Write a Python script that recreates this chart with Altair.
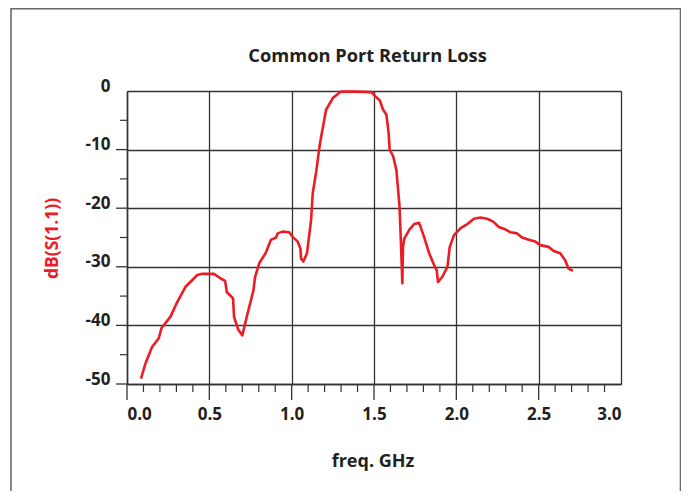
import altair as alt
import pandas as pd

# ---- data ----
freq_ghz = [0.085, 0.112, 0.152, 0.193, 0.209, 0.264, 0.300, 0.356, 0.427, 0.457,
            0.528, 0.569, 0.596, 0.606, 0.644, 0.650, 0.675, 0.700, 0.732, 0.768,
            0.778, 0.803, 0.843, 0.874, 0.905, 0.915, 0.945, 0.986, 1.006, 1.037,
            1.053, 1.057, 1.071, 1.093, 1.118, 1.128, 1.148, 1.169, 1.179, 1.209,
            1.250, 1.300, 1.380, 1.484, 1.508, 1.535, 1.555, 1.575, 1.589, 1.595,
            1.616, 1.636, 1.655, 1.663, 1.672, 1.676, 1.684, 1.714, 1.744, 1.774,
            1.804, 1.835, 1.865, 1.881, 1.889, 1.915, 1.946, 1.960, 1.986, 2.026,
            2.067, 2.107, 2.147, 2.187, 2.224, 2.258, 2.288, 2.329, 2.369, 2.399,
            2.440, 2.480, 2.510, 2.560, 2.591, 2.631, 2.661, 2.681, 2.708]
s11_db = [-49.1, -46.5, -43.7, -42.2, -40.5, -38.5, -36.3, -33.4, -31.4, -31.2,
          -31.2, -32.0, -32.4, -34.3, -35.4, -38.5, -40.7, -41.7, -38.0, -34.0,
          -31.7, -29.4, -27.6, -25.4, -25.0, -24.3, -24.0, -24.1, -24.9, -25.7,
          -26.9, -28.6, -29.1, -27.7, -22.0, -17.4, -14.0, -9.5, -7.8, -3.2,
          -1.2, -0.1, -0.1, -0.2, -0.9, -1.6, -3.2, -4.0, -7.2, -10.0,
          -11.1, -13.5, -19.7, -25.4, -32.8, -26.6, -25.2, -23.7, -22.7, -22.5,
          -24.9, -27.7, -29.7, -30.6, -32.6, -31.7, -30.0, -26.6, -24.6, -23.4,
          -22.7, -21.8, -21.6, -21.8, -22.3, -23.2, -23.5, -24.1, -24.3, -25.0,
          -25.4, -25.7, -26.3, -26.6, -27.3, -27.7, -28.9, -30.3, -30.7]

x_major = [0.0, 0.5, 1.0, 1.5, 2.0, 2.5, 3.0]
x_major_ticks = [0.0, 0.5, 1.0, 1.5, 2.0, 2.5]
x_minor_ticks = [0.1, 0.2, 0.3, 0.4, 0.6, 0.7, 0.8, 0.9, 1.1, 1.2, 1.3, 1.4,
                 1.6, 1.7, 1.8, 1.9, 2.1, 2.2, 2.3, 2.4, 2.6, 2.7, 2.8, 2.9]
y_major = [0, -10, -20, -30, -40, -50]
y_major_ticks = [-10, -20, -30, -40, -50]
y_minor_ticks = [-5, -15, -25, -35, -45]

title_text = "Common Port Return Loss"
x_title = "freq. GHz"
y_title = "dB(S(1.1))"

W, H = 494, 293
FONT = "Open Sans"
INK = "#231f20"
GRID = "#333333"
RED = "#ed1c24"

xs = alt.Scale(domain=[0, 3], nice=False)
ys = alt.Scale(domain=[-50, 0], nice=False)

curve_df = pd.DataFrame({"f": freq_ghz, "db": s11_db, "i": range(len(freq_ghz))})

curve = alt.Chart(curve_df).mark_line(color=RED, strokeWidth=2.6, strokeJoin="round").encode(
    x=alt.X("f:Q", scale=xs, axis=alt.Axis(
        values=x_major, grid=True, gridColor=GRID, gridWidth=1.3, gridOpacity=1,
        domainColor=GRID, domainWidth=1.5, ticks=False, tickSize=0,
        labelPadding=22, labelFont=FONT, labelFontSize=17, labelFontWeight="bold",
        labelColor=INK, labelExpr="format(datum.value, '.1f')",
        title=x_title, titleFont=FONT, titleFontSize=18, titleFontWeight="bold",
        titleColor=INK, titleX=245.5, titleY=82, titleAlign="center",
        titleBaseline="alphabetic")),
    y=alt.Y("db:Q", scale=ys, axis=alt.Axis(
        values=y_major, grid=True, gridColor=GRID, gridWidth=1.3, gridOpacity=1,
        domainColor=GRID, domainWidth=1.5, ticks=False, tickSize=0,
        labelPadding=17, labelFont=FONT, labelFontSize=17, labelFontWeight="bold",
        labelColor=INK, labelBaseline="alphabetic", labelExpr="'' + datum.value",
        title=y_title, titleFont=FONT, titleFontSize=17.5, titleFontWeight="bold",
        titleColor=RED, titleX=-75, titleY=147, titleAngle=270, titleAlign="center",
        titleBaseline="middle")),
    order=alt.Order("i:Q"),
)

xmaj = alt.Chart(pd.DataFrame({"v": x_major_ticks})).mark_rule(color=GRID, strokeWidth=1.3).encode(
    x=alt.X("v:Q", scale=xs), y=alt.value(H), y2=alt.value(H + 16))
xmin = alt.Chart(pd.DataFrame({"v": x_minor_ticks})).mark_rule(color=GRID, strokeWidth=1.2).encode(
    x=alt.X("v:Q", scale=xs), y=alt.value(H + 1), y2=alt.value(H + 8))
ymaj = alt.Chart(pd.DataFrame({"v": y_major_ticks})).mark_rule(color=GRID, strokeWidth=1.3).encode(
    y=alt.Y("v:Q", scale=ys), x=alt.value(-11), x2=alt.value(0))
ymin = alt.Chart(pd.DataFrame({"v": y_minor_ticks})).mark_rule(color=GRID, strokeWidth=1.2).encode(
    y=alt.Y("v:Q", scale=ys), x=alt.value(-7), x2=alt.value(0))

# outer frame (decoration)
FR = "#6b6b6b"
frame_df = pd.DataFrame({"k": [0]})
f_left = alt.Chart(frame_df).mark_rule(color=FR, strokeWidth=1.6).encode(
    x=alt.value(-116), y=alt.value(-83), y2=alt.value(420))
f_top = alt.Chart(frame_df).mark_rule(color=FR, strokeWidth=1.6).encode(
    x=alt.value(-116), x2=alt.value(553.5), y=alt.value(-82.2))
f_right = alt.Chart(frame_df).mark_rule(color=FR, strokeWidth=1.6).encode(
    x=alt.value(553.5), y=alt.value(-83), y2=alt.value(420))

title = alt.Chart(pd.DataFrame({"t": [title_text]})).mark_text(
    font=FONT, fontSize=18.3, fontWeight="bold", color=INK, align="center",
    baseline="alphabetic").encode(text="t:N", x=alt.value(240.5), y=alt.value(-29))

chart = alt.layer(f_left, f_top, f_right, xmaj, xmin, ymaj, ymin, curve, title).properties(
    width=W, height=H,
    autosize=alt.AutoSizeParams(type="none"),
    padding={"left": 119, "top": 83, "right": 60, "bottom": 107},
).configure_view(stroke=None).configure(background="white")

chart.save("out.html", embed_options={"renderer": "svg", "actions": False})
